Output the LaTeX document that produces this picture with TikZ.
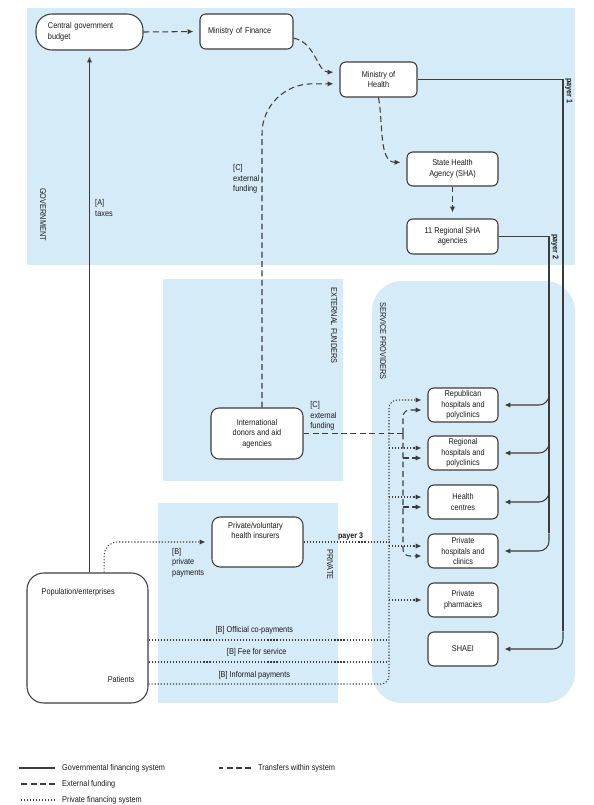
\documentclass[tikz,border=0pt]{standalone}
\usepackage{fontspec}
\setmainfont{Liberation Sans}[FakeStretch=0.87]
\usetikzlibrary{arrows.meta,positioning,calc}
\definecolor{bgblue}{RGB}{214,235,248}
\definecolor{boxgray}{RGB}{60,60,60}
\definecolor{txtgray}{RGB}{25,25,25}
\tikzset{
	box/.style={draw=boxgray, fill=white, line width=0.9pt, rounded corners=5pt, align=center, inner sep=1pt, text=txtgray},
	lbl/.style={align=left, inner sep=0pt, text=txtgray},
	arealbl/.style={rotate=-90, anchor=west, inner sep=0pt, text=txtgray},
	pay/.style={inner sep=1pt, text=txtgray, font=\fontsize{7}{9}\selectfont\bfseries},
	govline/.style={draw=boxgray, line width=0.9pt},
	extline/.style={draw=boxgray, line width=0.9pt, dash pattern=on 5pt off 3pt},
	transline/.style={extline},
	privline/.style={draw=boxgray, line width=0.9pt, dash pattern=on 1pt off 1.6pt},
	arr/.style={-{Latex[length=5pt,width=4.5pt]}, shorten >=1.8mm},
}
\begin{document}
\begin{tikzpicture}[x=0.03cm, y=-0.03cm, font=\fontsize{7.2}{9}\selectfont]
	\useasboundingbox (0,0) rectangle (594,805);
	%% areas
	\fill[bgblue] (27,8) rectangle (575,265);
	\fill[bgblue] (163,279) rectangle (343,481);
	\fill[bgblue] (158,503) rectangle (338,703);
	\fill[bgblue, rounded corners=9mm] (372,281) rectangle (575,703);
	\node[arealbl] at (43,188) {GOVERNMENT};
	\node[arealbl] at (334,287) {EXTERNAL FUNDERS};
	\node[arealbl] at (383,302) {SERVICE PROVIDERS};
	\node[arealbl] at (330,549) {PRIVATE};
	%%
	\coordinate (p1) at (563,0);
	\coordinate (p2) at (549,0);
	\coordinate (pv) at (389,0);
	\coordinate (pe) at (403,0);
	%% government
	\node[box, rounded corners=4.8mm, minimum width=32.1mm, minimum height=10.8mm, text width=24.9mm, align=left] (cgb) at (89.5,32) {Central government\\budget};
	\node[box, minimum width=27.9mm, minimum height=10.5mm, text width=23.1mm, align=left] (mof) at (246.5,31.5) {Ministry of Finance};
	\node[box, minimum width=23.1mm, minimum height=10.5mm] (moh) at (378.5,79.5) {Ministry of\\Health};
	\node[box, minimum width=27.3mm, minimum height=10.2mm] (sha) at (452.5,169) {State Health\\Agency (SHA)};
	\node[box, minimum width=27.3mm, minimum height=10.5mm] (rsha) at (452.5,236.5) {11 Regional SHA\\agencies};
	%% external and private
	\node[box, rounded corners=2.4mm, minimum width=27.6mm, minimum height=15.3mm] (donors) at (257,433.5) {International\\donors and aid\\agencies};
	\node[box, rounded corners=2.4mm, minimum width=27.3mm, minimum height=15mm] (ins) at (257.5,542) {};
	\node[lbl, align=center, anchor=north] (instxt) at ([xshift=-0.6mm, yshift=-1.6mm]ins.north) {Private/voluntary\\health insurers};
	\node[box, rounded corners=5mm, minimum width=36.3mm, minimum height=39mm] (pop) at (87.5,638) {};
	\node[lbl, anchor=north west] (poptxt) at ([xshift=4.5mm, yshift=-4.7mm]pop.north west) {Population/enterprises};
	\node[lbl, anchor=south east] (pattxt) at ([xshift=-4.2mm, yshift=6.2mm]pop.south east) {Patients};
	%% providers
	\node[box, minimum width=21mm, minimum height=10.2mm] (rep) at (463,405) {Republican\\hospitals and\\polyclinics};
	\node[box, minimum width=21mm, minimum height=10.2mm] (reg) at (463,453) {Regional\\hospitals and\\polyclinics};
	\node[box, minimum width=21mm, minimum height=10.2mm] (hc) at (463,502) {Health\\centres};
	\node[box, minimum width=21mm, minimum height=10.2mm] (priv) at (463,551) {Private\\hospitals and\\clinics};
	\node[box, minimum width=21mm, minimum height=10.2mm] (pharm) at (463,600) {Private\\pharmacies};
	\node[box, minimum width=21mm, minimum height=10.2mm] (shaei) at (463,649) {SHAEI};
	\foreach \b in {rep,reg,hc,priv}{
		\coordinate (\b-p) at ([yshift=1.5mm]\b.west);
		\coordinate (\b-e) at ([yshift=-1.5mm]\b.west);
	}
	%% transfers
	\draw[govline, arr] (cgb.south |- pop.north) -- (cgb.south);
	\node[lbl, anchor=west] (taxlbl) at (95,208) {[A]\\taxes};
	\draw[transline, arr] (cgb.east) -- (mof.west);
	\draw[transline, arr] ([yshift=-2mm]mof.east) to[out=-10, in=180] ([yshift=2.2mm]moh.west);
	\draw[extline, arr, rounded corners=1.5cm] ([xshift=1.5mm]donors.north) |- ([yshift=-1.3mm]moh.west);
	\node[lbl, anchor=west] (cext1) at (233,179) {[C]\\external\\funding};
	\draw[transline, arr] (moh.south) to[out=-80, in=180] ([yshift=2mm]sha.west);
	\draw[transline, arr] (sha.south) -- (rsha.north);
	%% payer 1 and 2
	\draw[govline] (moh.east) -| (p1 |- shaei.north);
	\draw[govline, arr, rounded corners=3mm] (p1 |- shaei.north) -- (p1 |- shaei.east) -- (shaei.east);
	\node[pay, rotate=-90, anchor=south west, inner sep=0pt] at (565,78) {payer 1};
	\draw[govline] (rsha.east) -| (p2 |- priv.north);
	\foreach \b in {rep,reg,hc,priv}
		\draw[govline, arr, rounded corners=3mm] (p2 |- \b.north) -- (p2 |- \b.east) -- (\b.east);
	\node[pay, rotate=-90, anchor=south west, inner sep=0pt] at (551,234) {payer 2};
	%% external funding to providers
	\draw[extline] (donors.east) -- (donors.east -| pe);
	\draw[extline, arr, rounded corners=2mm] (donors.east -| pe) -- (pe |- rep-e) -- (rep-e);
	\draw[extline, arr, rounded corners=2mm] (donors.east -| pe) -- (pe |- priv-e) -- (priv-e);
	\foreach \b in {reg,hc}
		\draw[extline, arr] (pe |- \b-e) -- (\b-e);
	\node[lbl, above right=0.8mm and 2mm of donors.east] (cext2) {[C]\\external\\funding};
	%% private payments
	\draw[privline, arr, rounded corners=4mm] ([xshift=5mm]pop.north) |- (ins.west);
	\node[lbl, anchor=north west] (bpriv) at (172,548) {[B]\\private\\payments};
	\draw[privline] (ins.east) -- (ins.east -| pv) node[pay, above, pos=0.55] {payer 3};
	\coordinate (copay) at ([yshift=-0.6mm]pop.east);
	\coordinate (fee) at ([yshift=-7.2mm]pop.east);
	\coordinate (infpay) at ([yshift=-13.8mm]pop.east);
	\draw[privline] (copay) -- (copay -| pv) node[lbl, above=1.5mm, pos=0.44] {[B] Official co-payments};
	\draw[privline] (fee) -- (fee -| pv) node[lbl, above=1.5mm, pos=0.45] {[B] Fee for service};
	\draw[privline, arr, rounded corners=2.5mm] (infpay) -| (pv |- rep-p) -- (rep-p);
	\node[lbl, above=1.5mm] at ($(infpay)!0.44!(infpay -| pv)$) {[B] Informal payments};
	\foreach \b in {reg,hc,priv}
		\draw[privline, arr] (pv |- \b-p) -- (\b-p);
	\draw[privline, arr] (pv |- pharm.west) -- (pharm.west);
	%% legend
	\node[lbl, anchor=west] (lgov) at (62,768) {Governmental financing system};
	\node[lbl, anchor=west] (lext) at (62,784) {External funding};
	\node[lbl, anchor=west] (lpriv) at (62,800) {Private financing system};
	\node[lbl, anchor=west] (ltrans) at (258,768) {Transfers within system};
	\draw[govline] ([xshift=-2mm]lgov.west) -- ++(-36,0);
	\draw[extline] ([xshift=-2mm]lext.west) -- ++(-36,0);
	\draw[privline] ([xshift=-2mm]lpriv.west) -- ++(-36,0);
	\draw[transline] ([xshift=-2mm]ltrans.west) -- ++(-32,0);
\end{tikzpicture}
\end{document}
